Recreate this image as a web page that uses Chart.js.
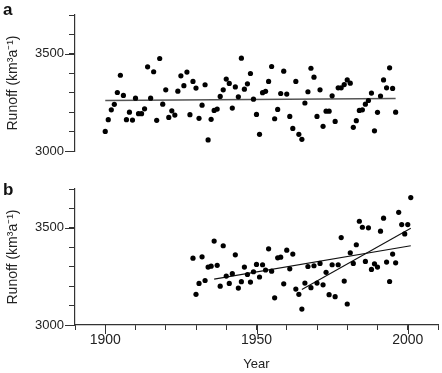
<!DOCTYPE html>
<html><head><meta charset="utf-8">
<script src="https://cdn.jsdelivr.net/npm/chart.js@4"></script>
<style>
html,body{margin:0;padding:0;background:#fff;}
#wrap{position:relative;width:442px;height:373px;}
canvas{position:absolute;left:0;top:0;}
</style></head><body>
<div id="wrap"><canvas id="ca" width="442" height="373"></canvas><canvas id="cb" width="442" height="373"></canvas></div>
<script>
// ---- data ----
const yearsA = [1900,1901,1902,1903,1904,1905,1906,1907,1908,1909,
1910,1911,1912,1913,1914,1915,1916,1917,1918,1919,
1920,1921,1922,1923,1924,1925,1926,1927,1928,1929,
1930,1931,1932,1933,1934,1935,1936,1937,1938,1939,
1940,1941,1942,1943,1944,1945,1946,1947,1948,1949,
1950,1951,1952,1953,1954,1955,1956,1957,1958,1959,
1960,1961,1962,1963,1964,1965,1966,1967,1968,1969,
1970,1971,1972,1973,1974,1975,1976,1977,1978,1979,
1980,1981,1982,1983,1984,1985,1986,1987,1988,1989,
1990,1991,1992,1993,1994,1995,1996];
const runoffA = [3101,3161,3212,3240,3301,3390,3286,3161,3200,3159,
3272,3192,3192,3217,3433,3272,3408,3158,3476,3241,
3315,3173,3207,3185,3308,3387,3336,3406,3187,3358,
3324,3168,3236,3341,3057,3163,3209,3216,3281,3315,
3370,3348,3221,3330,3279,3478,3318,3346,3399,3267,
3188,3086,3300,3307,3358,3435,3166,3214,3296,3411,
3293,3178,3116,3358,3086,3060,3247,3305,3426,3380,
3178,3315,3127,3205,3205,3284,3152,3325,3325,3342,
3366,3349,3122,3156,3209,3212,3241,3260,3298,3104,
3199,3283,3366,3325,3428,3322,3200];
const trendYearsA = [1900, 1996];
const trendA = [3260, 3270];

const yearsB = [1929,
1930,1931,1932,1933,1934,1935,1936,1937,1938,1939,
1940,1941,1942,1943,1944,1945,1946,1947,1948,1949,
1950,1951,1952,1953,1954,1955,1956,1957,1958,1959,
1960,1961,1962,1963,1964,1965,1966,1967,1968,1969,
1970,1971,1972,1973,1974,1975,1976,1977,1978,1979,
1980,1981,1982,1983,1984,1985,1986,1987,1988,1989,
1990,1991,1992,1993,1994,1995,1996,1997,1998,1999,
2000,2001];
const runoffB = [3344,
3158,3214,3351,3229,3298,3303,3432,3307,3200,3408,
3252,3214,3264,3361,3190,3223,3298,3260,3221,3274,
3312,3247,3310,3283,3392,3277,3140,3346,3349,3212,
3385,3289,3365,3185,3158,3082,3216,3301,3192,3305,
3216,3317,3207,3271,3156,3310,3146,3310,3450,3226,
3108,3372,3317,3413,3534,3503,3327,3500,3286,3315,
3298,3483,3550,3324,3224,3365,3320,3580,3517,3469,
3517,3656];
const trendYearsB1 = [1936, 2001];
const trendB1 = [3236, 3408];
const trendYearsB2 = [1965, 2001];
const trendB2 = [3183, 3498];

const yLabelTicks = [3000, 3500];
const xLabelTicks = [1900, 1950, 2000];
const yTitle = 'Runoff (km\u00B3a\u207B\u00B9)';
const xTitle = 'Year';

// ---- helpers ----
const FONT = "'Liberation Sans', Arial, Helvetica, sans-serif";
Chart.defaults.font.family = FONT;
Chart.defaults.color = '#222';
const pts = (xs, ys) => xs.map((x, i) => ({x: x, y: ys[i]}));

const extraTicks = {
  id: 'extraTicks',
  afterDraw(chart, args, opts) {
    const ctx = chart.ctx;
    ctx.save();
    ctx.strokeStyle = '#333';
    ctx.lineWidth = 1;
    const ys = chart.scales.y;
    for (const v of yLabelTicks) {
      const py = Math.round(ys.getPixelForValue(v)) + 0.5;
      ctx.beginPath(); ctx.moveTo(ys.right, py); ctx.lineTo(ys.right - 10, py); ctx.stroke();
    }
    const xs = chart.scales.x;
    if (xs.options.display) {
      for (const v of xLabelTicks) {
        const px = Math.round(xs.getPixelForValue(v)) + 0.5;
        ctx.beginPath(); ctx.moveTo(px, xs.top); ctx.lineTo(px, xs.top + 9); ctx.stroke();
      }
    }
    ctx.fillStyle = '#111';
    ctx.font = 'bold 17px ' + FONT;
    ctx.textBaseline = 'alphabetic';
    ctx.fillText(opts.letter, 3, opts.letterY);
    ctx.restore();
  }
};

function yScale() {
  return {
    min: 3000, max: 3700,
    border: {display: true, color: '#333', width: 1.2},
    grid: {drawOnChartArea: false, drawTicks: true, tickLength: 6, tickColor: '#333', tickWidth: 1},
    ticks: {stepSize: 100, autoSkip: false, padding: 5, font: {size: 13},
      callback: v => yLabelTicks.includes(v) ? String(v) : ''},
    title: {display: true, text: yTitle, font: {size: 14}, padding: {top: 5, bottom: 0}, color: '#222'},
    afterFit: s => { s.width = 75; s.paddingTop = 0; s.paddingBottom = 0; }
  };
}

function makeChart(id, datasets, showX, padding, letter, letterY) {
  return new Chart(document.getElementById(id), {
    type: 'scatter',
    data: {datasets: datasets},
    options: {
      responsive: false, animation: false,
      layout: {padding: padding},
      plugins: {legend: {display: false}, tooltip: {enabled: false}, extraTicks: {letter: letter, letterY: letterY}},
      scales: {
        x: {
          type: 'linear', min: 1890, max: 2010, display: showX,
          border: {display: true, color: '#333', width: 1.2},
          grid: {drawOnChartArea: false, drawTicks: true, tickLength: 5, tickColor: '#333', tickWidth: 1},
          ticks: {stepSize: 10, autoSkip: false, maxRotation: 0, padding: 2, font: {size: 14},
            callback: v => xLabelTicks.includes(v) ? String(v) : ''},
          title: {display: true, text: xTitle, font: {size: 13}, padding: {top: 0, bottom: 1}, color: '#222'},
          afterFit: s => { if (showX) { s.height = 48; s.paddingLeft = 0; s.paddingRight = 0; } }
        },
        y: yScale()
      }
    },
    plugins: [extraTicks]
  });
}

const dot = {pointRadius: 2.6, pointBackgroundColor: '#000', pointBorderWidth: 0, showLine: false};
const trendStyle = (c, w) => ({showLine: true, pointRadius: 0, borderColor: c, borderWidth: w, fill: false});

makeChart('ca', [
  Object.assign({data: pts(yearsA, runoffA)}, dot),
  Object.assign({data: pts(trendYearsA, trendA)}, trendStyle('#555', 1.5))
], false, {top: 15, left: 0, right: 2, bottom: 222}, 'a', 15);

makeChart('cb', [
  Object.assign({data: pts(yearsB, runoffB)}, dot),
  Object.assign({data: pts(trendYearsB1, trendB1)}, trendStyle('#111', 1.1)),
  Object.assign({data: pts(trendYearsB2, trendB2)}, trendStyle('#111', 1.1))
], true, {top: 189, left: 0, right: 2, bottom: 0}, 'b', 195);
</script>
</body></html>
